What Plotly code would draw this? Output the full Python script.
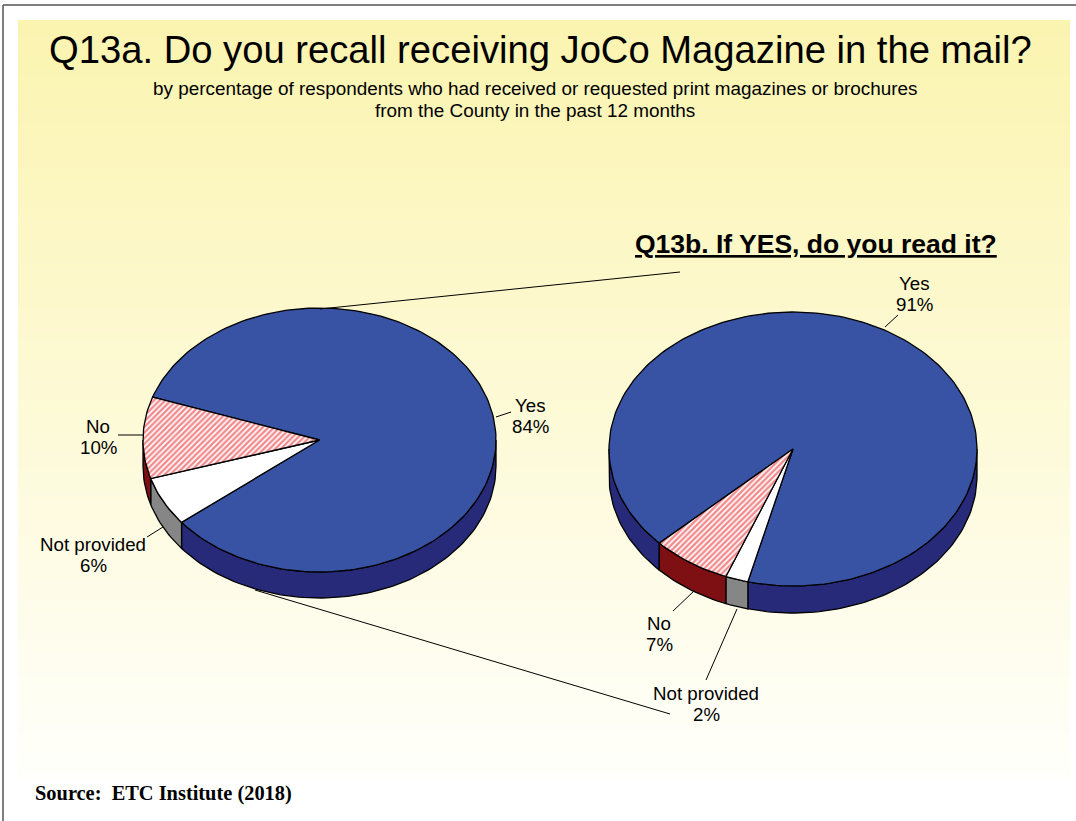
import math
import plotly.graph_objects as go

# Data
categories = ["Yes", "Not provided", "No"]
recall_values = [84, 6, 10]
read_values = [91, 2, 7]
title_text = "Q13a. Do you recall receiving JoCo Magazine in the mail?"
subtitle_lines = ["by percentage of respondents who had received or requested print magazines or brochures",
                  "from the County in the past 12 months"]
inset_title = "Q13b. If YES, do you read it?"
source_text = "Source:  ETC Institute (2018)"

# Styling
W, H = 1076, 821
top_colors = {"Yes": "#3953a4", "Not provided": "#ffffff", "No": "#ffffff"}
side_colors = {"Yes": "#262a78", "Not provided": "#868686", "No": "#7e1014"}
FONT = "Liberation Sans"

fig = go.Figure()

# Gradient panel
y_edges = list(range(20, 781, 4))
fig.add_trace(go.Heatmap(x=[18, 1070], y=y_edges, z=[[i] for i in range(len(y_edges) - 1)],
                         colorscale=[[0, "#fbf4b0"], [1, "#fffffb"]], showscale=False,
                         hoverinfo="skip"))


def pt(p, theta):
    t = math.radians(theta)
    return p["cx"] + p["rx"] * math.sin(t), p["cy"] - p["ry"] * math.cos(t)


def arc(p, a, b):
    n = max(2, int(abs(b - a) / 1.5) + 2)
    return [pt(p, a + (b - a) * i / (n - 1)) for i in range(n)]


def draw_pie(values, p):
    start = p["start"]
    spans = []
    for cat, v in zip(categories, values):
        end = start + v * 3.6
        spans.append((cat, start, end))
        start = end
    # walls
    for cat, a, b in spans:
        for lo, hi in ((90, 270), (450, 630)):
            s, e = max(a, lo), min(b, hi)
            if e > s:
                pts = arc(p, s, e)
                xs = [q[0] for q in pts]
                ys = [q[1] for q in pts]
                xs2 = xs + xs[::-1] + [xs[0]]
                ys2 = ys + [y + p["depth"] for y in ys[::-1]] + [ys[0]]
                fig.add_trace(go.Scatter(x=xs2, y=ys2, mode="lines", fill="toself",
                                         fillcolor=side_colors[cat],
                                         line=dict(color="black", width=1.3),
                                         hoverinfo="skip", name=cat))
    # top faces
    for cat, a, b in spans:
        pts = [(p["cx"], p["cy"])] + arc(p, a, b) + [(p["cx"], p["cy"])]
        kw = dict(fillcolor=top_colors[cat])
        if cat == "No":
            kw["fillpattern"] = dict(shape="/", fgcolor="#e2161c", bgcolor="#ffffff",
                                     size=4, solidity=0.6)
        fig.add_trace(go.Scatter(x=[q[0] for q in pts], y=[q[1] for q in pts],
                                 mode="lines", fill="toself",
                                 line=dict(color="black", width=1.3),
                                 hoverinfo="skip", name=cat, **kw))


left = dict(cx=319.5, cy=440, rx=176.5, ry=132, depth=26, start=289)
right = dict(cx=793, cy=449, rx=184, ry=137, depth=27, start=226.6)
draw_pie(recall_values, left)
draw_pie(read_values, right)


def line(x0, y0, x1, y1, color="black", width=1):
    return dict(type="line", x0=x0, y0=y0, x1=x1, y1=y1, xref="x", yref="y",
                line=dict(color=color, width=width))


shapes = [
    line(3, 5, 1076, 5, "#555555", 1.5),
    line(3, 5, 3, 821, "#555555", 1.5),
    line(320, 309, 680, 272),
    line(255, 590, 670, 714),
    line(496, 417, 511, 412),
    line(118, 435, 144, 435),
    line(147, 537, 163, 527),
    line(885, 327, 898, 315),
    line(673, 611, 693, 592),
    line(706, 680, 737, 609),
]


def text(x, y, s, size=18.7, family=FONT, **kw):
    return dict(x=x, y=y, xref="x", yref="y", text=s, showarrow=False,
                font=dict(size=size, family=family, color="black", **kw),
                xanchor="center", yanchor="middle", align="center")


def label(x, y, cat, val):
    return [text(x, y - 10.5, cat), text(x, y + 10.5, f"{val}%")]


ann = [
    text(540, 49, title_text, size=38.2),
    text(535, 88, subtitle_lines[0], size=18.9),
    text(535, 110, subtitle_lines[1], size=18.9),
    text(816, 244, f"<b>{inset_title}</b>", size=26.5, lineposition="under"),
    *label(530, 416, categories[0], recall_values[0]),
    *label(93, 555, categories[1], recall_values[1]),
    *label(98, 437, categories[2], recall_values[2]),
    *label(914, 294, categories[0], read_values[0]),
    *label(706, 704, categories[1], read_values[1]),
    *label(659, 634, categories[2], read_values[2]),
    text(163, 793, f"<b>{source_text}</b>", size=20.4, family="Liberation Serif"),
]

fig.update_layout(
    width=W, height=H, margin=dict(l=0, r=0, t=0, b=0), showlegend=False,
    paper_bgcolor="white", plot_bgcolor="white", shapes=shapes, annotations=ann,
    xaxis=dict(range=[0, W], visible=False, fixedrange=True),
    yaxis=dict(range=[H, 0], visible=False, fixedrange=True),
)
fig.write_html("out.html", config={"displayModeBar": False},
               post_script="document.body.style.margin='0';document.body.style.overflow='hidden';")
